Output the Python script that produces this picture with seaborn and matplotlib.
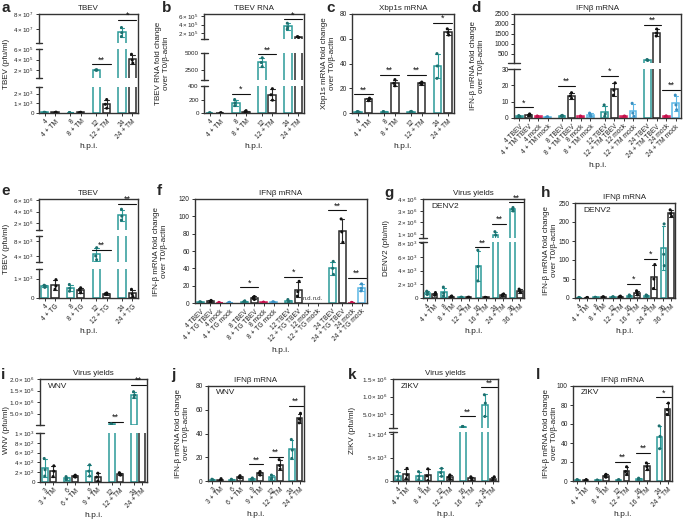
import numpy as np
import pandas as pd
import matplotlib
matplotlib.use('Agg')
import matplotlib.pyplot as plt
import seaborn as sns

sns.set_theme(style='ticks')
plt.rcParams['font.family'] = ['Liberation Sans', 'DejaVu Sans']
plt.rcParams['mathtext.fontset'] = 'custom'
plt.rcParams['mathtext.rm'] = 'Liberation Sans'
plt.rcParams['mathtext.it'] = 'Liberation Sans:italic'
plt.rcParams['mathtext.bf'] = 'Liberation Sans:bold'

W, H = 685, 519
fig = plt.figure(figsize=(6.85, 5.19), dpi=100)

PAL = {'T': '#2b9a98', 'K': '#2a2a2a', 'M': '#d81e5b', 'B': '#5cb8e6'}
DOT = {'T': '#1d6f6e', 'K': '#111111', 'M': '#c2114b', 'B': '#3a8fc0'}

# ---------------- data ----------------
TM4 = ['4', '4 + TM', '8', '8 + TM', '12', '12 + TM', '24', '24 + TM']
PAIR4 = ['T', 'K'] * 4

A_REPS = [[40, 60, 80], [30, 60, 90], [20, 40, 50], [30, 50, 80],
          [1.95e5, 2.0e5, 2.05e5], [500, 900, 1400], [2.0e7, 3.0e7, 4.4e7], [3.3e5, 3.9e5, 5.0e5]]
A_TICKS = [[4e7, 8e7], [2e5, 4e5, 6e5], [0, 1e3, 2e3]]
A_SIGS = [(4, 5, 3.1e5, '**'), (6, 7, 6.4e7, '*')]

B_REPS = [[0.5, 1, 1.5], [0.5, 1, 1.5], [110, 150, 200], [10, 20, 35],
          [3000, 3600, 4300], [190, 270, 360], [2.9e5, 3.4e5, 4.3e5], [0.95e5, 1.05e5, 1.15e5]]
B_TICKS = [[2e5, 4e5, 6e5], [2500, 5000], [0, 200, 400]]
B_SIGS = [(2, 3, 280, '*'), (4, 5, 4800, '**'), (6, 7, 5.2e5, '*')]

C_REPS = [[0.5, 1, 1.2], [10, 11, 12], [0.5, 1, 1.2], [22, 24, 27],
          [0.8, 1, 1.3], [23, 24, 25], [28, 38, 48], [63, 65, 68]]
C_TICKS = [[0, 20, 40, 60, 80]]
C_SIGS = [(0, 1, 15, '**'), (2, 3, 31, '**'), (4, 5, 31, '**'), (6, 7, 73, '*')]

D_CATS = []
for h in ['4', '8', '12', '24']:
    D_CATS += [h + ' TBEV', h + ' + TM TBEV', h + ' mock', h + ' + TM mock']
QUAD = ['T', 'K', 'M', 'B'] * 4
D_REPS = [[0.5, 1, 1.5], [1.5, 2, 2.5], [0.8, 1, 1.2], [0.3, 0.5, 0.8],
          [1, 1.3, 1.6], [12, 13.5, 15.5], [0.8, 1, 1.2], [1, 2, 3],
          [1, 2.5, 8], [14, 17, 21.5], [0.8, 1, 1.2], [1, 3, 9],
          [180, 200, 220], [1400, 1550, 1750], [0.8, 1, 1.3], [5, 8, 14]]
D_TICKS = [[500, 1000, 1500, 2000, 2500], [0, 10, 20, 30]]
D_SIGS = [(0, 1, 6.5, '*'), (4, 5, 19.5, '**'), (8, 9, 26, '*'), (12, 13, 1950, '**'), (14, 15, 17, '**')]

TG4 = ['4', '4 + TG', '8', '8 + TG', '12', '12 + TG', '24', '24 + TG']
E_REPS = [[550, 620, 660], [450, 620, 950], [350, 500, 700], [270, 400, 530],
          [3000, 4000, 6200], [180, 220, 260], [2.5e6, 3.2e6, 4.4e6], [80, 200, 450]]
E_TICKS = [[2e6, 4e6, 6e6], [4e3, 8e3], [0, 1e3]]
E_SIGS = [(4, 5, 5600, '**'), (6, 7, 5.3e6, '**')]

F_CATS = []
for h in ['4', '8', '12', '24']:
    F_CATS += [h + ' TBEV', h + ' + TG TBEV', h + ' mock', h + ' + TG mock']
F_REPS = [[0.5, 1, 1.5], [1.5, 2, 3], [0.3, 0.5, 0.7], [0.3, 0.5, 0.8],
          [1, 1.5, 2.5], [4, 6, 7.5], [0.5, 0.8, 1], [0.8, 1, 1.4],
          [0.5, 1.5, 4], [8, 13, 25], [], [],
          [33, 40, 48], [70, 82, 97], [0.3, 0.5, 0.7], [14, 17, 22]]
F_TICKS = [[0, 20, 40, 60, 80, 100, 120]]
F_SIGS = [(4, 5, 18, '*'), (8, 9, 30, '*'), (12, 13, 107, '**'), (14, 15, 29, '**')]
F_ND = [10, 11]

TM6 = ['4', '4 + TM', '8', '8 + TM', '12', '12 + TM', '16', '16 + TM', '24', '24 + TM', '36', '36 + TM']
PAIR6 = ['T', 'K'] * 6
G_REPS = [[500, 800, 1000], [400, 600, 800], [300, 700, 1600], [100, 200, 300],
          [80, 100, 120], [80, 100, 120], [2500, 4600, 7000], [50, 80, 100],
          [0.6e6, 0.9e6, 1.2e6], [300, 500, 600], [3.0e6, 3.15e6, 3.3e6], [800, 1000, 1300]]
G_TICKS = [[1e6, 2e6, 3e6, 4e6], [0, 2e3, 4e3, 6e3, 8e3]]
G_SIGS = [(6, 7, 7400, '**'), (8, 9, 1.9e6, '**'), (10, 11, 3.75e6, '**')]

H_REPS = [[0.5, 1, 1.5], [0.5, 1, 1.5], [1, 1.5, 2], [1.5, 2.5, 3.5],
          [1.5, 2.5, 3.5], [2, 3.5, 5], [4, 6, 8], [8, 13, 19],
          [4, 6, 8], [25, 50, 88], [85, 115, 195], [215, 222, 232]]
H_TICKS = [[0, 50, 100, 150, 200, 250]]
H_SIGS = [(6, 7, 37, '*'), (8, 9, 103, '*')]

TM5 = ['3', '3 + TM', '6', '6 + TM', '9', '9 + TM', '12', '12 + TM', '24', '24 + TM']
PAIR5 = ['T', 'K'] * 5
I_REPS = [[120, 250, 480], [110, 220, 330], [50, 80, 110], [100, 120, 140],
          [120, 220, 350], [20, 100, 180], [4e4, 5e4, 6e4], [140, 170, 190],
          [1.2e6, 1.3e6, 1.45e6], [2e4, 3e4, 4e4]]
I_TICKS = [[5e5, 1e6, 1.5e6, 2e6], [0, 200, 400, 600, 800, 1000]]
I_SIGS = [(6, 7, 1.6e5, '**'), (8, 9, 1.75e6, '**')]

J_REPS = [[0.5, 1, 1.5], [0.5, 1, 2], [0.5, 1, 1.5], [2.5, 3.5, 4.5],
          [1, 1.5, 2.5], [5, 6.5, 8], [1.5, 2.5, 5], [10, 13, 18],
          [19, 26, 35], [49, 52, 57]]
J_TICKS = [[0, 20, 40, 60, 80]]
J_SIGS = [(4, 5, 14, '**'), (6, 7, 20.5, '**'), (8, 9, 63, '**')]

ZK5 = ['4', '4 + TM', '8', '8 + TM', '12', '12 + TM', '16', '16 + TM', '24', '24 + TM']
K_REPS = [[300, 1000, 2000], [500, 1300, 2700], [300, 1000, 2000], [100, 1100, 2600],
          [1000, 1800, 2700], [400, 800, 1300], [1.35e5, 1.4e5, 1.45e5], [300, 600, 900],
          [4.3e5, 8.1e5, 1.05e6], [100, 400, 900]]
K_TICKS = [[5e5, 1e6, 1.5e6], [0, 5e3, 1e4]]
K_SIGS = [(6, 7, 4.3e5, '**'), (8, 9, 1.26e6, '**')]

L_REPS = [[0.5, 1, 1.5], [0.5, 1, 1.5], [0.5, 0.8, 1], [4, 5.5, 7],
          [0.5, 1, 1.5], [7, 10, 15], [1.5, 2, 3], [12, 15, 19],
          [34, 47, 58], [70, 75, 82]]
L_TICKS = [[0, 20, 40, 60, 80, 100]]
L_SIGS = [(4, 5, 20.4, '**'), (6, 7, 30, '**'), (8, 9, 88, '*')]

IFN_LABEL = 'IFN-β mRNA fold change\nover T0/β-actin'


def fmt(v, dec):
    if v == 0:
        return '0'
    if dec is None:
        return f'{v:g}'
    e = int(np.floor(np.log10(v) + 1e-9))
    m = v / 10 ** e
    return r'$%s\times10^{%d}$' % (f'{m:.{dec}f}', e)


def hide_below(ax, y0, y1, bottom_seg):
    """Hide marks that end right at the lower edge of an upper axis segment."""
    if bottom_seg:
        return
    eps = 0.02 * (y1 - y0)
    for p in ax.patches:
        if p.get_y() + p.get_height() < y0 + eps:
            p.set_visible(False)
    for ln in ax.lines:
        yd = np.asarray(ln.get_ydata(), dtype=float)
        if yd.size and np.nanmax(yd) < y0 + eps:
            ln.set_visible(False)
    for c in ax.collections:
        offs = np.array(c.get_offsets(), dtype=float)
        if offs.size:
            offs[:, 1] = np.where(offs[:, 1] < y0 + eps, y0 - 5 * (y1 - y0), offs[:, 1])
            c.set_offsets(offs)


def panel(box, segs, ticks, cats, grps, reps, title, ylabel, ylx, letter, lxy,
          sigs, gsize=2, spacer=0.5, inner=None, nd=None, xpad=0.55, tfs=4.8):
    l, t, r, b = box
    n = len(cats)
    pos = [(i // gsize) * (gsize + spacer) + i % gsize for i in range(n)]
    rows = []
    for p, g, vals in zip(pos, grps, reps):
        for v in vals:
            rows.append((p, g, v))
    df = pd.DataFrame(rows, columns=['x', 'g', 'y'])
    fa = fig.add_axes([l / W, 1 - b / H, (r - l) / W, (b - t) / H])
    fa.patch.set_alpha(0)
    fa.set_xticks([]); fa.set_yticks([])
    for s in ['left', 'bottom']:
        fa.spines[s].set_visible(False)
    for s in ['top', 'right']:
        fa.spines[s].set_linewidth(1.0)
        fa.spines[s].set_color('#333333')
    nseg = len(segs)
    axes = []
    for k, ((pt, pb, y0, y1, dec), tk) in enumerate(zip(segs, ticks)):
        ax = fig.add_axes([l / W, 1 - pb / H, (r - l) / W, (pb - pt) / H])
        ax.patch.set_alpha(0)
        sns.barplot(data=df, x='x', y='y', hue='g', palette=PAL, native_scale=True,
                    dodge=False, fill=False, errorbar='sd', capsize=0.45,
                    err_kws={'linewidth': 0.8}, linewidth=1.1, width=0.72,
                    legend=False, ax=ax)
        np.random.seed(3)
        sns.stripplot(data=df, x='x', y='y', hue='g', palette=DOT, native_scale=True,
                      dodge=False, jitter=0.12, size=2.2, legend=False, ax=ax, zorder=5)
        ax.set_xlim(-xpad, pos[-1] + xpad)
        ax.set_ylim(y0, y1)
        hide_below(ax, y0, y1, k == nseg - 1)
        ax.set_yticks(tk)
        ax.set_yticklabels([fmt(v, dec) for v in tk])
        ax.set_xlabel(''); ax.set_ylabel('')
        ax.spines['top'].set_visible(False)
        ax.spines['right'].set_visible(False)
        for s in ['left', 'bottom']:
            ax.spines[s].set_linewidth(1.0)
            ax.spines[s].set_color('#333333')
        ax.tick_params(axis='both', labelsize=tfs, length=2.5, width=0.7, pad=1.2,
                       color='#333333', labelcolor='#222222')
        if k < nseg - 1:
            ax.spines['bottom'].set_visible(False)
            ax.tick_params(axis='x', bottom=False, labelbottom=False)
            ax.plot([-0.035, 0.035], [0, 0], transform=ax.transAxes, clip_on=False,
                    color='#333333', lw=1.0)
        else:
            ax.set_xticks(pos)
            ax.set_xticklabels(cats, rotation=45, ha='right', rotation_mode='anchor',
                               fontsize=4.8)
            ax.set_xlabel('h.p.i.', fontsize=6, labelpad=2, color='#222222')
        if k > 0:
            ax.plot([-0.035, 0.035], [1, 1], transform=ax.transAxes, clip_on=False,
                    color='#333333', lw=1.0)
        axes.append((ax, y0, y1))
    for (i, j, y, txt) in sigs:
        for ax, y0, y1 in axes:
            if y0 <= y <= y1:
                ax.plot([pos[i] - 0.4, pos[j] + 0.4], [y, y], color='#111111', lw=0.8,
                        clip_on=False)
                ax.text((pos[i] + pos[j]) / 2, y, txt, ha='center', va='bottom',
                        fontsize=6.5, color='#111111')
                break
    if nd:
        ax0 = axes[-1][0]
        for i in nd:
            ax0.text(pos[i], 2, 'n.d.', ha='center', va='bottom', fontsize=4.4,
                     color='#333333')
    fig.text((l + r) / 2 / W, 1 - (t - 2) / H, title, ha='center', va='bottom',
             fontsize=5.8, color='#222222')
    fig.text(ylx / W, 1 - ((t + b) / 2) / H, ylabel, rotation=90, ha='center',
             va='center', fontsize=5.8, multialignment='center', color='#222222')
    fig.text(lxy[0] / W, 1 - lxy[1] / H, letter, fontsize=11, weight='bold',
             ha='left', va='top')
    if inner:
        fig.text((l + 8) / W, 1 - (t + 7) / H, inner, ha='left', va='center',
                 fontsize=6, color='#222222')


# a
panel((39, 14, 138, 113),
      [(14, 43, 2.7e6, 8e7, 0), (49, 78, 4.8e4, 6e5, 0), (87, 113, 0, 2700, 0)],
      A_TICKS, TM4, PAIR4, A_REPS, 'TBEV', 'TBEV (pfu/ml)', 7, 'a', (1, 1), A_SIGS,
      tfs=4.5)
# b
panel((204, 14, 304, 113),
      [(14, 39, 5.9e4, 6.47e5, 0), (53, 80, 1030, 5000, None), (86, 113, 0, 400, None)],
      B_TICKS, TM4, PAIR4, B_REPS, 'TBEV RNA', 'TBEV RNA fold change\nover T0/β-actin',
      163, 'b', (162, 1), B_SIGS, tfs=4.5)
# c
panel((352, 14, 454, 113), [(14, 113, 0, 80, None)], C_TICKS, TM4, PAIR4, C_REPS,
      'Xbp1s mRNA', 'Xbp1s mRNA fold change\nover T0/β-actin', 329, 'c', (326, 1), C_SIGS)
# d
panel((514, 14, 681, 118), [(14, 63, 50, 2500, None), (69, 118, 0, 30, None)],
      D_TICKS, D_CATS, QUAD, D_REPS, 'IFNβ mRNA', IFN_LABEL, 478, 'd', (471, 1), D_SIGS,
      gsize=4, spacer=0.5)
# e
panel((39, 199, 138, 298),
      [(199, 230, 0.8e6, 6.17e6, 0), (236, 262, 2400, 9300, 0), (269, 298, 0, 1500, 0)],
      E_TICKS, TG4, PAIR4, E_REPS, 'TBEV', 'TBEV (pfu/ml)', 7, 'e', (1, 184), E_SIGS,
      tfs=4.5)
# f
panel((195, 199, 367, 303), [(199, 303, 0, 120, None)], F_TICKS, F_CATS, QUAD, F_REPS,
      'IFNβ mRNA', IFN_LABEL, 160, 'f', (157, 184), F_SIGS, gsize=4, spacer=0.5, nd=F_ND)
# g
panel((423, 199, 524, 298), [(199, 238, 0.65e6, 4.04e6, 0), (242, 298, 0, 8.2e3, 0)],
      G_TICKS, TM6, PAIR6, G_REPS, 'Virus yields', 'DENV2 (pfu/ml)', 387, 'g', (384, 186),
      G_SIGS, spacer=0.25, inner='DENV2', tfs=4.5)
# h
panel((575, 203, 675, 298), [(203, 298, 0, 250, None)], H_TICKS, TM6, PAIR6, H_REPS,
      'IFNβ mRNA', IFN_LABEL, 550, 'h', (541, 186), H_SIGS, spacer=0.25, inner='DENV2')
# i
panel((40, 379, 147, 482), [(379, 425, 1e4, 2.0e6, 1), (433, 482, 0, 1000, 0)],
      I_TICKS, TM5, PAIR5, I_REPS, 'Virus yields', 'WNV (pfu/ml)', 6, 'i', (1, 368),
      I_SIGS, spacer=0.65, inner='WNV', tfs=4.5)
# j
panel((208, 386, 304, 481), [(386, 481, 0, 80, None)], J_TICKS, TM5, PAIR5, J_REPS,
      'IFNβ mRNA', IFN_LABEL, 183, 'j', (171, 368), J_SIGS, inner='WNV')
# k
panel((393, 379, 498, 481), [(379, 428, 1e5, 1.5e6, 1), (432, 481, 0, 1.05e4, 0)],
      K_TICKS, ZK5, PAIR5, K_REPS, 'Virus yields', 'ZIKV (pfu/ml)', 353, 'k', (348, 368),
      K_SIGS, spacer=0.55, inner='ZIKV', tfs=4.5)
# l
panel((573, 386, 672, 481), [(386, 481, 0, 100, None)], L_TICKS, ZK5, PAIR5, L_REPS,
      'IFNβ mRNA', IFN_LABEL, 550, 'l', (536, 368), L_SIGS, spacer=0.55, inner='ZIKV')

fig.savefig('out.png', dpi=100, facecolor='white')
